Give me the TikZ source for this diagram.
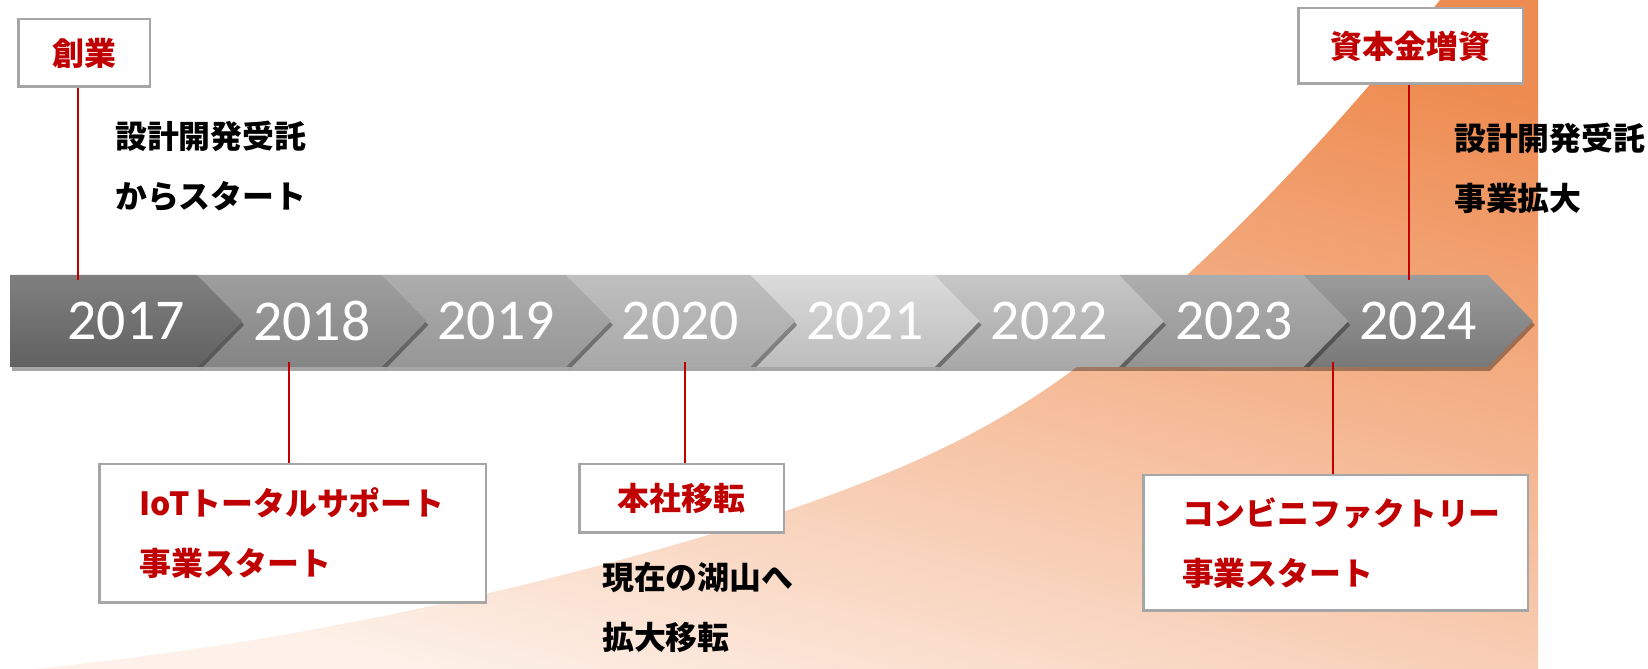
\documentclass[tikz,border=0pt]{standalone}
\usepackage{fontspec}
\setmainfont{Carlito}
\newfontfamily\jpfont{Noto Sans CJK JP}
\usetikzlibrary{shadows}
\definecolor{boxred}{HTML}{C00000}
\definecolor{boxgray}{HTML}{A6A6A6}
\definecolor{orngtop}{HTML}{EE8B50}
\definecolor{orngmid}{HTML}{F6C4A2}
\definecolor{orngbot}{HTML}{FDF1E9}
\begin{document}
\begin{tikzpicture}[
    chev/.style={drop shadow={shadow xshift=2bp,shadow yshift=-4bp,opacity=.35,fill=black}},
    year/.style={text=white,inner sep=0pt,font=\fontsize{58}{58}\selectfont},
    box/.style={draw=boxgray,line width=2.5bp,fill=white,inner sep=0pt,text=boxred,
      font=\jpfont\bfseries\fontsize{32}{60}\selectfont},
    note/.style={inner sep=0pt,anchor=west,align=left,
      font=\jpfont\bfseries\fontsize{32}{60}\selectfont},
    redline/.style={draw=boxred,line width=1.5bp}]
  \useasboundingbox (0bp,0bp) rectangle (1648bp,669bp);
  %% growth curve behind the bar
  \shade [top color=orngtop,middle color=orngmid,bottom color=orngbot,shading angle=-15]
    (33bp,0bp) .. controls (283bp,25bp) and (530bp,77bp) .. (780bp,156bp)
    .. controls (880bp,191bp) and (977bp,227bp) .. (1077bp,302bp)
    .. controls (1197bp,392bp) and (1320bp,519bp) .. (1440bp,669bp)
    -- (1538bp,669bp) -- (1538bp,0bp) -- cycle;
  %% chevrons, right to left
  \shade [chev,top color=black!39,bottom color=black!53] (1303.4bp,394bp) -- (1487.8bp,394bp) -- (1532.8bp,348bp) -- (1487.8bp,302bp) -- (1303.4bp,302bp) -- (1348.4bp,348bp) -- cycle;
  \shade [chev,top color=black!32,bottom color=black!42] (1119.0bp,394bp) -- (1303.4bp,394bp) -- (1348.4bp,348bp) -- (1303.4bp,302bp) -- (1119.0bp,302bp) -- (1164.0bp,348bp) -- cycle;
  \shade [chev,top color=black!22,bottom color=black!34] (934.6bp,394bp) -- (1119.0bp,394bp) -- (1164.0bp,348bp) -- (1119.0bp,302bp) -- (934.6bp,302bp) -- (979.6bp,348bp) -- cycle;
  \shade [chev,top color=black!14,bottom color=black!26] (750.2bp,394bp) -- (934.6bp,394bp) -- (979.6bp,348bp) -- (934.6bp,302bp) -- (750.2bp,302bp) -- (795.2bp,348bp) -- cycle;
  \shade [chev,top color=black!25,bottom color=black!34] (565.8bp,394bp) -- (750.2bp,394bp) -- (795.2bp,348bp) -- (750.2bp,302bp) -- (565.8bp,302bp) -- (610.8bp,348bp) -- cycle;
  \shade [chev,top color=black!32,bottom color=black!41] (381.4bp,394bp) -- (565.8bp,394bp) -- (610.8bp,348bp) -- (565.8bp,302bp) -- (381.4bp,302bp) -- (426.4bp,348bp) -- cycle;
  \shade [chev,top color=black!38,bottom color=black!48] (197.0bp,394bp) -- (381.4bp,394bp) -- (426.4bp,348bp) -- (381.4bp,302bp) -- (197.0bp,302bp) -- (242.0bp,348bp) -- cycle;
  \shade [chev,top color=black!50,bottom color=black!62] (10bp,394bp) -- (197.0bp,394bp) -- (242.0bp,348bp) -- (197.0bp,302bp) -- (10bp,302bp) -- cycle;
  \node (y2017) at (126.0bp,348bp) [year] {2017};
  \node (y2018) at (311.7bp,348bp) [year] {2018};
  \node (y2019) at (496.1bp,348bp) [year] {2019};
  \node (y2020) at (680.5bp,348bp) [year] {2020};
  \node (y2021) at (864.9bp,348bp) [year] {2021};
  \node (y2022) at (1049.3bp,348bp) [year] {2022};
  \node (y2023) at (1233.7bp,348bp) [year] {2023};
  \node (y2024) at (1418.1bp,348bp) [year] {2024};
  %% event boxes
  \node (sogyo) at (84bp,616bp) [box,minimum width=131.5bp,minimum height=67.5bp] {創業};
  \node (zoushi) at (1410.5bp,623bp) [box,minimum width=224.5bp,minimum height=75.5bp] {資本金増資};
  \node (iot) at (292.5bp,135.5bp) [box,align=left,text width=305.5bp,inner xsep=40.5bp,minimum height=138.5bp] {IoTトータルサポート\\事業スタート};
  \node (honsha) at (681.5bp,170.5bp) [box,minimum width=204.5bp,minimum height=68.5bp] {本社移転};
  \node (cvs) at (1335.5bp,126bp) [box,align=left,text width=307bp,inner xsep=38.75bp,minimum height=135.5bp] {コンビニファクトリー\\事業スタート};
  \node (start) at (115bp,503bp) [note] {設計開発受託\\からスタート};
  \node (expand) at (1454bp,500.5bp) [note] {設計開発受託\\事業拡大};
  \node (move) at (602bp,61.5bp) [note] {現在の湖山へ\\拡大移転};
  %% ties to the bar
  \coordinate (t2017) at (78bp,389bp);
  \coordinate (b2018) at (289bp,307bp);
  \coordinate (b2020) at (685bp,307bp);
  \coordinate (b2023) at (1333bp,307bp);
  \coordinate (t2024) at (1409bp,389bp);
  \draw [redline] (sogyo.south -| t2017) -- (t2017);
  \draw [redline] (b2018) -- (b2018 |- iot.north);
  \draw [redline] (b2020) -- (b2020 |- honsha.north);
  \draw [redline] (b2023) -- (b2023 |- cvs.north);
  \draw [redline] (zoushi.south -| t2024) -- (t2024);
\end{tikzpicture}
\end{document}
